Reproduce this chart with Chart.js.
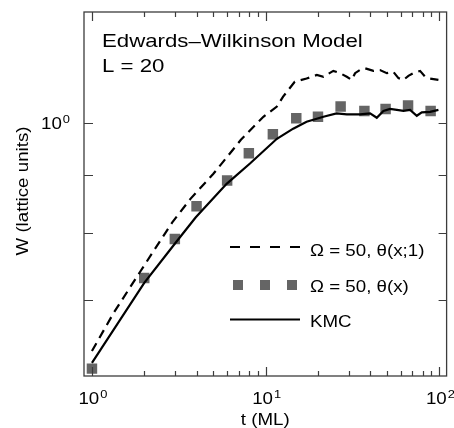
<!DOCTYPE html>
<html>
<head>
<meta charset="utf-8">
<script src="https://cdn.jsdelivr.net/npm/chart.js@4/dist/chart.umd.min.js"></script>
<style>
  html, body { margin: 0; padding: 0; background: #fff; }
  canvas { display: block; }
</style>
</head>
<body>
<canvas id="ewChart" width="454" height="428"></canvas>
<script>
// KMC (solid line)
const tKMC = [1, 2, 3.03, 3.95, 5.96, 8.12, 11.6, 14.4, 17.2, 21.5, 25.6, 29.3, 34.9, 39.9, 43.6, 47.6, 52, 56.9, 62.1, 67.8, 74.1, 79.2, 88.4, 98.7]
const wKMC = [0.616, 0.724, 0.785, 0.826, 0.884, 0.921, 0.968, 0.988, 1.002, 1.012, 1.019, 1.017, 1.017, 1.019, 1.010, 1.024, 1.028, 1.026, 1.024, 1.026, 1.014, 1.021, 1.022, 1.026]

// Omega = 50, theta(x;1) (dashed line)
const tDash = [1, 1.33, 1.89, 2.9, 3.7, 5.0, 7.2, 9.7, 11.6, 12.6, 14.7, 17.2, 19.7, 21.5, 24.5, 26.8, 29.3, 31.3, 32.7, 34.9, 37.3, 41.7, 45.5, 49.8, 54.3, 58.1, 62.1, 66.3, 70.8, 77.4, 82.7, 88.5, 98.7]
const wDash = [0.631, 0.681, 0.740, 0.818, 0.858, 0.902, 0.966, 1.012, 1.033, 1.054, 1.086, 1.093, 1.101, 1.097, 1.110, 1.105, 1.097, 1.090, 1.105, 1.112, 1.116, 1.110, 1.112, 1.105, 1.108, 1.094, 1.090, 1.099, 1.105, 1.110, 1.097, 1.093, 1.090]

// Omega = 50, theta(x) (squares)
const tSq = [1, 2, 3, 4, 6, 8, 11, 15, 20, 27, 37, 49, 66, 89]
const wSq = [0.609, 0.731, 0.791, 0.845, 0.890, 0.940, 0.977, 1.009, 1.012, 1.033, 1.024, 1.028, 1.035, 1.024]

// axes
const xMajor = [1, 10, 100]
const xMajorExp = ['0', '1', '2']
const xMinor = [2, 3, 4, 5, 6, 7, 8, 9, 20, 30, 40, 50, 60, 70, 80, 90]
const yTicks = [0.7, 0.8, 0.9, 1.0]
const yLabelled = [1.0]
const yLabelExp = ['0']

const titleLines = ['Edwards\u2013Wilkinson Model', 'L = 20']
const legendLabels = ['\u03A9 = 50, \u03B8(x;1)', '\u03A9 = 50, \u03B8(x)', 'KMC']
const xTitle = 't (ML)'
const yTitle = 'W (lattice units)'

const FONT = '"Liberation Sans", Arial, Helvetica, sans-serif'
const SX = 1.17
const SQ_COLOR = '#656565'

function toPoints(xs, ys) {
    return xs.map((x, i) => ({ x: x, y: ys[i] }))
}

function stretchText(ctx, str, x, y, size, align, rot) {
    ctx.save()
    ctx.translate(x, y)
    if (rot) ctx.rotate(rot)
    ctx.scale(SX, 1)
    ctx.font = size + 'px ' + FONT
    ctx.textAlign = align || 'left'
    ctx.fillText(str, 0, 0)
    ctx.restore()
}

function textWidth(ctx, str, size) {
    ctx.save()
    ctx.font = size + 'px ' + FONT
    const w = ctx.measureText(str).width * SX
    ctx.restore()
    return w
}

// "10" with a raised exponent; x is the left edge
function powerLabel(ctx, exp, x, baseline) {
    stretchText(ctx, '10', x, baseline, 16, 'left')
    stretchText(ctx, exp, x + textWidth(ctx, '10', 16) + 1, baseline - 6, 11, 'left')
}

function powerWidth(ctx, exp) {
    return textWidth(ctx, '10', 16) + 1 + textWidth(ctx, exp, 11)
}

const decor = {
    id: 'decor',
    afterDraw(chart) {
        const { ctx, chartArea: a } = chart
        const xs = chart.scales.x
        const ys = chart.scales.y
        ctx.save()
        ctx.textBaseline = 'alphabetic'

        // frame
        ctx.strokeStyle = '#3c3c3c'
        ctx.lineWidth = 1.3
        ctx.strokeRect(a.left, a.top, a.right - a.left, a.bottom - a.top)

        // inward ticks, mirrored on top/right
        ctx.lineWidth = 1.2
        ctx.beginPath()
        xMajor.forEach((v) => {
            const px = Math.round(xs.getPixelForValue(v)) + 0.5
            ctx.moveTo(px, a.bottom); ctx.lineTo(px, a.bottom - 9)
            ctx.moveTo(px, a.top); ctx.lineTo(px, a.top + 9)
        })
        xMinor.forEach((v) => {
            const px = Math.round(xs.getPixelForValue(v)) + 0.5
            ctx.moveTo(px, a.bottom); ctx.lineTo(px, a.bottom - 5)
            ctx.moveTo(px, a.top); ctx.lineTo(px, a.top + 5)
        })
        yTicks.forEach((v) => {
            const py = Math.round(ys.getPixelForValue(v)) + 0.5
            ctx.moveTo(a.left, py); ctx.lineTo(a.left + 9, py)
            ctx.moveTo(a.right, py); ctx.lineTo(a.right - 8, py)
        })
        ctx.stroke()

        ctx.fillStyle = '#000'

        // tick labels
        xMajor.forEach((v, i) => {
            const px = xs.getPixelForValue(v)
            const w = powerWidth(ctx, xMajorExp[i])
            powerLabel(ctx, xMajorExp[i], px - w / 2 + 1, a.bottom + 28)
        })
        yLabelled.forEach((v, i) => {
            const py = ys.getPixelForValue(v)
            const w = powerWidth(ctx, yLabelExp[i])
            powerLabel(ctx, yLabelExp[i], a.left - 14 - w, py + 6)
        })

        // axis titles
        stretchText(ctx, xTitle, (a.left + a.right) / 2, a.bottom + 49, 16, 'center')
        ctx.textBaseline = 'middle'
        stretchText(ctx, yTitle, 24, 191, 16, 'center', -Math.PI / 2)
        ctx.textBaseline = 'alphabetic'

        // title block
        stretchText(ctx, titleLines[0], a.left + 18, a.top + 35, 19, 'left')
        stretchText(ctx, titleLines[1], a.left + 18, a.top + 60, 19, 'left')

        // legend
        const lx0 = 230
        const lx1 = 300
        const tx = 310
        ctx.strokeStyle = '#000'
        ctx.lineWidth = 2.2
        ctx.setLineDash([10, 10])
        ctx.beginPath(); ctx.moveTo(lx0, 247); ctx.lineTo(lx1, 247); ctx.stroke()
        ctx.setLineDash([])
        ctx.fillStyle = SQ_COLOR
        ;[238, 265, 292].forEach((cx) => ctx.fillRect(cx - 5, 280, 10, 10))
        ctx.beginPath(); ctx.moveTo(lx0, 319.5); ctx.lineTo(lx1, 319.5); ctx.stroke()
        ctx.fillStyle = '#000'
        stretchText(ctx, legendLabels[0], tx, 256, 16, 'left')
        stretchText(ctx, legendLabels[1], tx, 292, 16, 'left')
        stretchText(ctx, legendLabels[2], tx, 327, 16, 'left')

        ctx.restore()
    },
}

const config = {
    type: 'line',
    data: {
        datasets: [
            {
                label: legendLabels[0],
                data: toPoints(tDash, wDash),
                borderColor: '#000',
                borderWidth: 2.2,
                borderDash: [9, 6],
                pointRadius: 0,
                tension: 0,
                fill: false,
            },
            {
                label: legendLabels[2],
                data: toPoints(tKMC, wKMC),
                borderColor: '#000',
                borderWidth: 2.2,
                pointRadius: 0,
                tension: 0,
                fill: false,
            },
            {
                label: legendLabels[1],
                data: toPoints(tSq, wSq),
                showLine: false,
                pointStyle: 'rect',
                pointRadius: 7.4,
                pointBorderWidth: 0,
                pointBackgroundColor: SQ_COLOR,
                pointBorderColor: SQ_COLOR,
            },
        ],
    },
    options: {
        responsive: false,
        animation: false,
        devicePixelRatio: 1,
        layout: {
            padding: { left: 84, right: 7, top: 12, bottom: 52 },
        },
        scales: {
            x: { type: 'logarithmic', min: 0.9, max: 110, display: false },
            y: { type: 'logarithmic', min: 0.6, max: 1.25, display: false },
        },
        plugins: {
            legend: { display: false },
            tooltip: { enabled: false },
        },
    },
    plugins: [decor],
}

new Chart(document.getElementById('ewChart').getContext('2d'), config)
</script>
</body>
</html>
